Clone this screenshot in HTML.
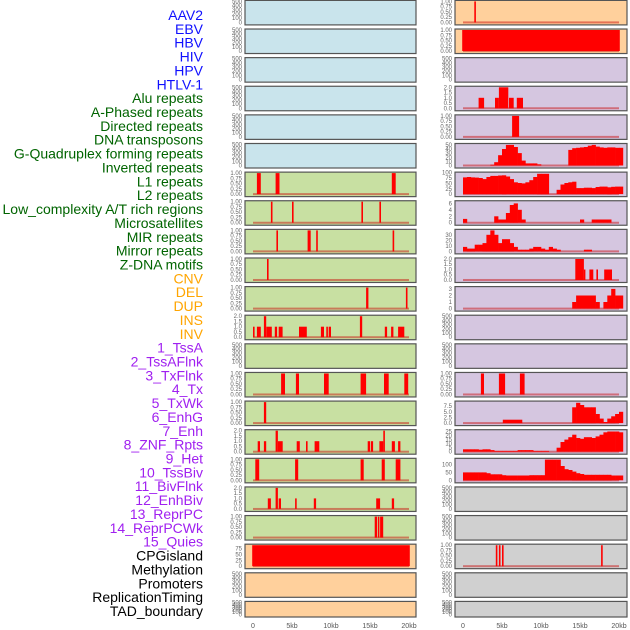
<!DOCTYPE html>
<html><head><meta charset="utf-8">
<style>
html,body{margin:0;padding:0;background:#fff;width:630px;height:630px;overflow:hidden}
svg{display:block;font-family:"Liberation Sans",sans-serif}
</style></head>
<body>
<svg id="chart" width="630" height="630" viewBox="0 0 630 630" xmlns="http://www.w3.org/2000/svg"></svg>
<script>
// ---- data ----
const featureLabels = ["AAV2","EBV","HBV","HIV","HPV","HTLV-1","Alu repeats","A-Phased repeats","Directed repeats","DNA transposons","G-Quadruplex forming repeats","Inverted repeats","L1 repeats","L2 repeats","Low_complexity A/T rich regions","Microsatellites","MIR repeats","Mirror repeats","Z-DNA motifs","CNV","DEL","DUP","INS","INV","1_TssA","2_TssAFlnk","3_TxFlnk","4_Tx","5_TxWk","6_EnhG","7_Enh","8_ZNF_Rpts","9_Het","10_TssBiv","11_BivFlnk","12_EnhBiv","13_ReprPC","14_ReprPCWk","15_Quies","CPGisland","Methylation","Promoters","ReplicationTiming","TAD_boundary"];
const labelGroups = [0,0,0,0,0,0,1,1,1,1,1,1,1,1,1,1,1,1,1,2,2,2,2,2,3,3,3,3,3,3,3,3,3,3,3,3,3,3,3,4,4,4,4,4];
const groupColors = ["#1010ff","#006400","#ffa500","#a020f0","#000000"];
const xTickValues = [0,5,10,15,20];
const xTickLabels = ["0","5kb","10kb","15kb","20kb"];

const leftBg = ["b","b","b","b","b","b","g","g","g","g","g","g","g","g","g","g","g","g","g","o","o","o"];
const rightBg = ["o","o","p","p","p","p","p","p","p","p","p","p","p","p","p","p","p","y","y","y","y","y"];
const leftMax = [500,500,500,500,500,500,1,1,1,1,1,2,500,1,1,2,1,2,1,90,500,500];
const rightMax = [1,1,500,2,1,51,98,6.5,38,2,3.2,500,500,1,9.3,26,132,500,500,1,500,500];

const leftIntervals = [
 [],[],[],[],[],[],
 [[0.5,1.0,1],[2.9,3.4,1],[17.8,18.3,1]],
 [[2.3,2.5,1],[5.0,5.2,1],[13.9,14.1,1],[16.2,16.4,1]],
 [[3.0,3.2,1],[7.0,7.4,1],[8.1,8.3,1],[17.9,18.1,1]],
 [[1.8,2.0,1]],
 [[14.5,14.8,1],[19.6,19.8,1]],
 [[0.0,0.2,1],[0.5,1.0,1],[1.4,1.7,2],[1.7,2.4,1],[2.8,3.1,1],[3.3,3.8,1],[5.9,6.9,1],[8.7,9.1,1],[9.4,9.6,1],[9.7,10.0,1],[13.7,14.0,2],[16.9,17.2,1],[17.7,18.0,1],[18.6,19.4,1]],
 [],
 [[3.6,4.1,1],[5.5,5.9,1],[9.1,9.7,1],[13.8,14.5,1],[16.8,17.4,1],[19.4,19.9,1]],
 [[1.4,1.7,1]],
 [[0.6,0.9,1],[1.4,1.7,1],[2.9,3.2,2],[3.2,3.8,1],[5.6,6.0,1],[6.8,7.0,1],[7.9,8.5,1],[14.7,15.0,1],[15.1,15.4,1],[16.2,16.7,1],[16.7,16.9,2],[17.8,18.2,1],[18.6,18.9,1]],
 [[0.3,0.8,1],[5.4,5.8,1],[13.8,14.2,1],[16.5,16.9,1],[18.3,18.9,1]],
 [[1.9,2.3,1],[2.9,3.2,2],[3.3,3.6,1],[5.4,5.6,1],[7.8,8.1,1],[15.8,16.3,1],[17.8,18.1,1]],
 [[15.6,15.9,1],[16.0,16.2,1],[16.3,16.7,1]],
 [[-0.1,20.1,90]],
 [],[]
];
const rightIntervals = [
 [[1.45,1.65,1]],
 [[-0.1,20.1,1]],
 [],
 [[2.0,2.7,1],[4.1,4.6,1],[4.6,5.8,2],[5.9,6.5,1],[6.9,7.7,1]],
 [[6.3,7.2,1]],
 [],[],[],[],
 [[14.4,15.5,2],[15.5,15.6,1],[16.2,16.7,1],[17.1,17.3,1],[18.1,19.1,1]],
 [],[],[],
 [[2.3,2.7,1],[4.6,5.4,1],[7.3,7.9,1]],
 [[5.1,7.6,1.5]],
 [],[],[],[],
 [[4.2,4.4,1],[4.6,4.8,1],[5.0,5.2,1],[17.7,17.9,1]],
 [],[]
];
const prof5 = [0,0,0,0,0,0,0,2,8,25,40,50,50,45,30,12,5,5,5,3,0,0,0,0,0,0,0,38,42,43,44,45,48,50,46,44,43,44,44,43,43];
const prof6 = [78,80,78,77,75,70,80,85,85,87,88,82,70,55,52,50,55,65,80,95,95,95,0,0,20,45,52,55,58,28,28,30,30,28,33,35,35,32,34,35,35];
const prof7 = [1.2,0,0,0,0,0,0,0,2,1,1,3,5.5,6,4,1,0,0,0,0,0,0,0,0,0,0,0,0,0,0,1,0,0,1,1,1,1,1,0,0,0];
const prof8 = [8,5,5,12,12,15,30,38,30,15,22,22,15,8,3,3,3,5,8,8,5,3,8,5,3,0,0,0,0,0,0,3,3,0,0,0,0,0,0,0,0];
const prof10 = [0,0,0,0,0,0,0,0,0,0,0,0,0,0,0,0,0,0,0,0,0,0,0,0,0,0,0,0,1,2,2,2,2,2,1,0,1,2,3,2,2];
const prof14 = [0,0,0,0,0,0,0,0,0,0,0,0,0,0,0,0,0,0,0,0,0,0,0,0,0,0,0,0,7,9,8,7,7,7,4,2,0.5,2,3,4,5];
const prof15 = [3,3,3,3,2.5,3,3,2,1,1,1,1,1,1,2,2,2,2,1,1,1,1,0,0,5,12,15,18,21,17,16,18,18,17,19,21,24,25,25,25,24];
const prof16 = [50,50,50,50,50,50,45,38,38,38,32,30,30,30,30,30,30,32,32,32,32,130,130,130,130,90,70,65,55,45,40,35,35,35,35,35,35,35,30,30,30];
const rightProfiles = {5:prof5,6:prof6,7:prof7,8:prof8,10:prof10,14:prof14,15:prof15,16:prof16};

const tickSets = {
 "500":[0,100,200,300,400,500],
 "1":[0,0.25,0.5,0.75,1],
 "2":[0,0.5,1,1.5,2],
 "90":[0,25,50,75],
 "51":[0,10,20,30,40,50],
 "98":[0,25,50,75,100],
 "6.5":[0,2,4,6],
 "38":[0,10,20,30],
 "3.2":[0,1,2,3],
 "9.3":[0,2.5,5,7.5],
 "26":[0,5,10,15,20,25],
 "132":[0,50,100]
};

// ---- drawing ----
const NS="http://www.w3.org/2000/svg";
const svg=document.getElementById('chart');
const bgColor={b:"#c9e4ec",g:"#c8e0a2",o:"#ffd09c",p:"#d5c6e0",y:"#d0d0d0"};
function mk(tag,attrs,parent){const e=document.createElementNS(NS,tag);for(const k in attrs)e.setAttribute(k,attrs[k]);(parent||svg).appendChild(e);return e;}
const pitch=28.62;
function rowTop(i){return 0.4+i*pitch;}
function rowBottom(i){return i===21?617:rowTop(i)+24.5;}
const cols=[{x0:245,x1:416,z:253},{x0:455,x1:627,z:463}];
const pxPerKb=7.8;
function xScale(c,kb){return cols[c].z+kb*pxPerKb;}
function yScale(r,v,max){const b=rowBottom(r)-2.5,t=rowTop(r)+1;return b-(v/max)*(b-t);}
function fmt(v,max){if(max===1)return v.toFixed(2);if(max===2||max===9.3)return v.toFixed(1);return String(v);}

featureLabels.forEach((name,i)=>{
  const t=mk('text',{x:203,y:(20+i*13.86).toFixed(1),'text-anchor':'end','font-size':'14',fill:groupColors[labelGroups[i]]});
  t.textContent=name;
  
  
});

function drawPanel(c,r,bgKey,max,intervals,profile){
  const g=mk('g',{});
  
  
  const top=rowTop(r),bot=rowBottom(r);
  mk('rect',{x:cols[c].x0,y:top,width:cols[c].x1-cols[c].x0,height:bot-top,fill:bgColor[bgKey],stroke:'#555',"stroke-width":1.2},g);
  const ticks=tickSets[String(max)];
  ticks.forEach(v=>{
    const t=mk('text',{x:cols[c].x0-3,y:(yScale(r,v,max)+2).toFixed(1),'text-anchor':'end','font-size':'6',fill:'#666'},g);
    t.textContent=fmt(v,max);
    
    
  });
  const hasData=intervals.length>0||profile;
  if(hasData){
    const base=mk('rect',{x:xScale(c,0),y:yScale(r,0,max)-1,width:xScale(c,20)-xScale(c,0),height:2,fill:'rgba(200,0,0,0.45)'},g);
    
    
  }
  intervals.forEach(iv=>{
    const x=xScale(c,iv[0]),w=Math.max(1.5,xScale(c,iv[1])-x),y=yScale(r,iv[2],max);
    const b=mk('rect',{x:x.toFixed(1),y:y.toFixed(1),width:w.toFixed(1),height:(yScale(r,0,max)-y).toFixed(1),fill:'#ff0000'},g);
    
    
  });
  if(profile){
    profile.forEach((v,k)=>{
      if(v<=0)return;
      const x=xScale(c,k*0.5),w=xScale(c,(k+1)*0.5)-x,y=yScale(r,v,max);
      const b=mk('rect',{x:x.toFixed(1),y:y.toFixed(1),width:(w+0.3).toFixed(1),height:(yScale(r,0,max)-y).toFixed(1),fill:'#ff0000'},g);
      
      
    });
  }
}
for(let r=0;r<22;r++){
  drawPanel(0,r,leftBg[r],leftMax[r],leftIntervals[r],null);
  drawPanel(1,r,rightBg[r],rightMax[r],rightIntervals[r],rightProfiles[r]||null);
}
[0,1].forEach(c=>{
  xTickValues.forEach((v,i)=>{
    const t=mk('text',{x:xScale(c,v),y:628,'text-anchor':'middle','font-size':'7',fill:'#555'});
    t.textContent=xTickLabels[i];
    
    
  });
});
</script>
</body></html>
